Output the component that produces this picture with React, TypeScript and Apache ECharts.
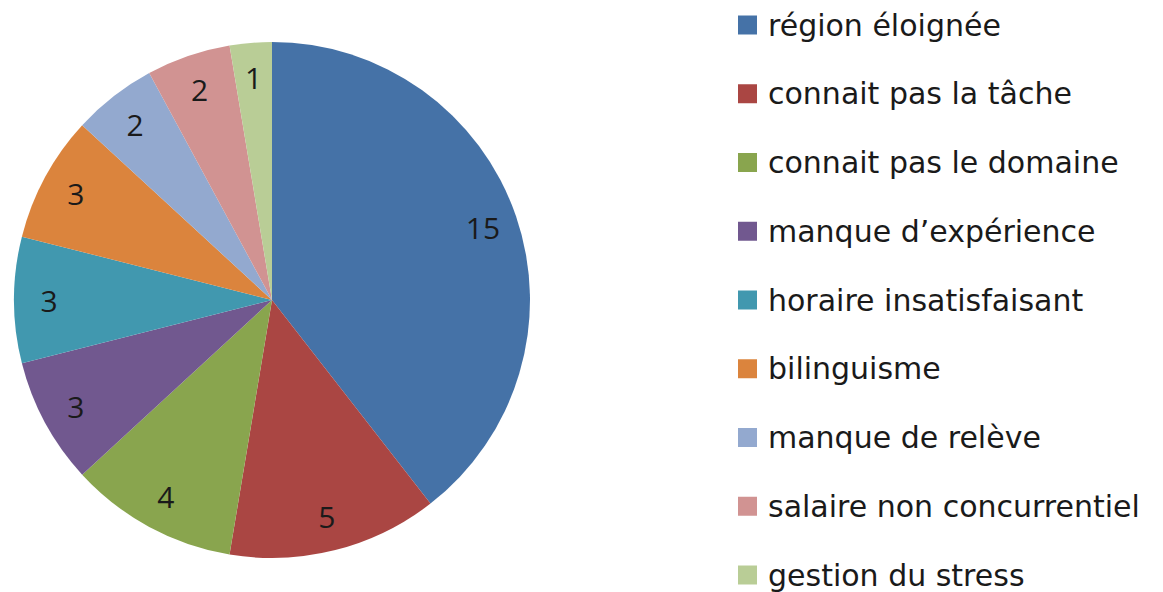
import React, { useEffect, useRef } from "react";
import * as echarts from "echarts";

const categories = [
  "région éloignée",
  "connait pas la tâche",
  "connait pas le domaine",
  "manque d’expérience",
  "horaire insatisfaisant",
  "bilinguisme",
  "manque de relève",
  "salaire non concurrentiel",
  "gestion du stress",
];
const values = [15, 5, 4, 3, 3, 3, 2, 2, 1];
const colors = [
  "#4572A7",
  "#AA4643",
  "#89A54E",
  "#71588F",
  "#4198AF",
  "#DB843D",
  "#93A9CF",
  "#D19392",
  "#B9CD96",
];

export default function App() {
  const ref = useRef<HTMLDivElement>(null);
  useEffect(() => {
    if (!ref.current) return;
    const chart = echarts.init(ref.current, null, { renderer: "svg" });
    const data = categories.map((name, i) => ({
      name,
      value: values[i],
      itemStyle: { color: colors[i] },
    }));
    chart.setOption({
      animation: false,
      backgroundColor: "#ffffff",
      legend: {
        orient: "vertical",
        left: 738,
        top: 10,
        padding: 0,
        itemWidth: 19,
        itemHeight: 19,
        itemGap: 38.75,
        icon: "rect",
        selectedMode: false,
        data: categories,
        textStyle: {
          fontFamily: "DejaVu Sans",
          fontSize: 30,
          color: "#1a1a1a",
          lineHeight: 30,
          padding: [0, 0, 0, 6],
        },
      },
      series: [
        {
          type: "pie",
          center: [272, 300],
          radius: [0, 258],
          startAngle: 90,
          clockwise: true,
          silent: true,
          label: { show: false },
          labelLine: { show: false },
          itemStyle: { borderWidth: 0 },
          data,
        },
        {
          type: "pie",
          center: [272, 300],
          radius: [182, 258],
          startAngle: 90,
          clockwise: true,
          silent: true,
          legendHoverLink: false,
          itemStyle: { color: "rgba(0,0,0,0)", borderWidth: 0 },
          label: {
            show: true,
            position: "inside",
            formatter: "{c}",
            fontFamily: "Open Sans",
            fontSize: 30,
            color: "#1a1a1a",
            padding: [6, 0, 0, 0],
          },
          labelLine: { show: false },
          data: categories.map((name, i) => ({ name, value: values[i] })),
        },
      ],
    });
    return () => chart.dispose();
  }, []);
  return (
    <div
      ref={ref}
      style={{ position: "fixed", left: 0, top: 0, width: 1163, height: 592 }}
    />
  );
}
